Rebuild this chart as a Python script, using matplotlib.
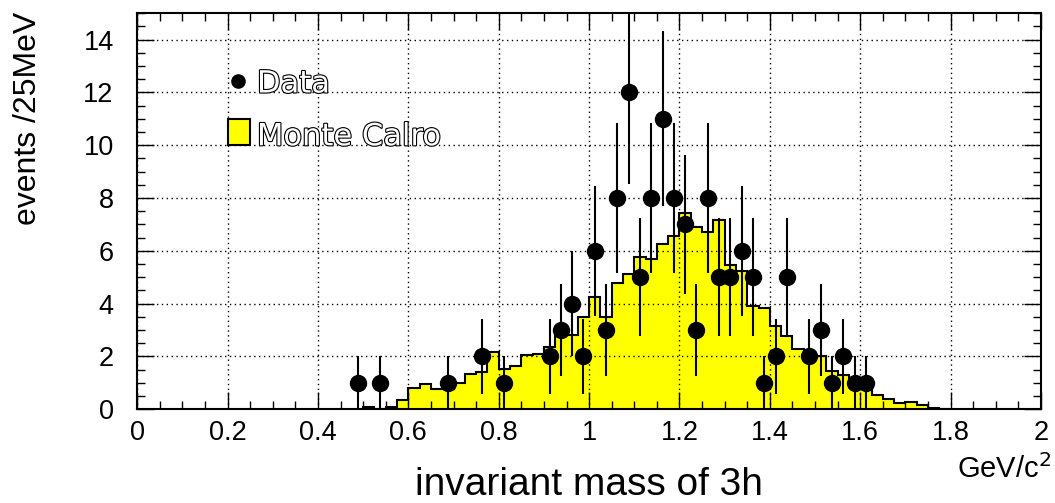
import matplotlib
matplotlib.use("Agg")
import matplotlib.pyplot as plt
import matplotlib.patheffects as pe
from matplotlib.ticker import MultipleLocator
import numpy as np

plt.rcParams["font.family"] = ["Liberation Sans", "DejaVu Sans"]

# Monte Carlo histogram, 25 MeV bins starting at 0.5 GeV/c^2
MC_START = 0.5
BIN_W = 0.025
mc_counts = [0.07, 0.0, 0.07, 0.35, 0.80, 0.97, 0.77, 0.77, 1.00, 1.35,
             1.40, 2.16, 1.53, 1.63, 2.04, 2.08, 2.35, 2.80, 2.80, 3.49,
             4.27, 3.49, 4.79, 5.13, 5.77, 5.68, 6.25, 6.57, 7.43, 6.92,
             6.70, 7.17, 5.47, 5.24, 3.91, 3.85, 3.15, 2.77, 2.30, 2.00,
             2.00, 1.45, 1.29, 1.20, 0.85, 0.53, 0.38, 0.23, 0.29, 0.15,
             0.05, 0.0]

# data points (bin centres, counts)
data_x = [0.4875, 0.5375, 0.6875, 0.7625, 0.8125, 0.9125, 0.9375, 0.9625,
          0.9875, 1.0125, 1.0375, 1.0625, 1.0875, 1.1125, 1.1375, 1.1625,
          1.1875, 1.2125, 1.2375, 1.2625, 1.2875, 1.3125, 1.3375, 1.3625,
          1.3875, 1.4125, 1.4375, 1.4875, 1.5125, 1.5375, 1.5625, 1.5875,
          1.6125]
data_n = [1, 1, 1, 2, 1, 2, 3, 4, 2, 6, 3, 8, 12, 5, 8, 11, 8, 7, 3, 8,
          5, 5, 6, 5, 1, 2, 5, 2, 3, 1, 2, 1, 1]

YELLOW = "#FFFF00"

fig = plt.figure(figsize=(10.55, 5.03), dpi=100, facecolor="white")
ax = fig.add_axes([0.1301, 0.1863, 0.8566, 0.7873])

edges = MC_START + BIN_W * np.arange(len(mc_counts) + 1)
ax.stairs(mc_counts, edges, fill=True, color=YELLOW, zorder=1)
ax.stairs(mc_counts, edges, color="black", linewidth=1.5, zorder=2)

ax.grid(True, which="major", color="black", linestyle=(0, (1, 2.5)),
        linewidth=1.0, zorder=3)
ax.set_axisbelow(False)

y = np.array(data_n, dtype=float)
ax.errorbar(data_x, y, yerr=np.sqrt(y), fmt="o", color="black",
            markersize=11.5, elinewidth=1.5, capsize=0, zorder=5)

ax.set_xlim(0, 2)
ax.set_ylim(0, 15)
ax.xaxis.set_major_locator(MultipleLocator(0.2))
ax.xaxis.set_minor_locator(MultipleLocator(0.05))
ax.yaxis.set_major_locator(MultipleLocator(2))
ax.yaxis.set_minor_locator(MultipleLocator(0.5))
ax.set_xticks(np.arange(0, 2.01, 0.2))
ax.set_xticklabels(["0", "0.2", "0.4", "0.6", "0.8", "1", "1.2", "1.4",
                    "1.6", "1.8", "2"])
ax.tick_params(which="both", direction="in", top=True, right=True,
               width=1.0, labelsize=19.5, colors="black")
ax.tick_params(axis="x", which="major", length=12, pad=8)
ax.tick_params(axis="y", which="major", length=12, pad=17)
ax.tick_params(which="minor", length=6)
for s in ax.spines.values():
    s.set_linewidth(1.5)

ax.set_xlabel("invariant mass of 3h", fontsize=28, va="center")
ax.xaxis.set_label_coords(0.5, -0.19)
ax.set_ylabel("events /25MeV", fontsize=23, loc="top", va="center")
ax.yaxis.set_label_coords(-0.121, 1.003)
fig.text(0.996, 0.05, "GeV/c$^2$", fontsize=21, ha="right", va="baseline")

# legend, drawn ROOT-style in data coordinates
outline = [pe.withStroke(linewidth=1.6, foreground="black")]
ax.plot([0.223], [12.44], "o", color="black", markersize=9.5,
        zorder=6, clip_on=False)
ax.text(0.265, 12.0, "Data", fontsize=22, family="DejaVu Sans",
        color="white", path_effects=outline, va="baseline", zorder=6)
ax.add_patch(plt.Rectangle((0.200, 10.0), 0.050, 1.0, facecolor=YELLOW,
                           edgecolor="black", linewidth=1.5, zorder=6))
ax.text(0.265, 10.0, "Monte Calro", fontsize=22, family="DejaVu Sans",
        color="white", path_effects=outline, va="baseline", zorder=6)

fig.savefig("out.png", dpi=100, facecolor="white")
